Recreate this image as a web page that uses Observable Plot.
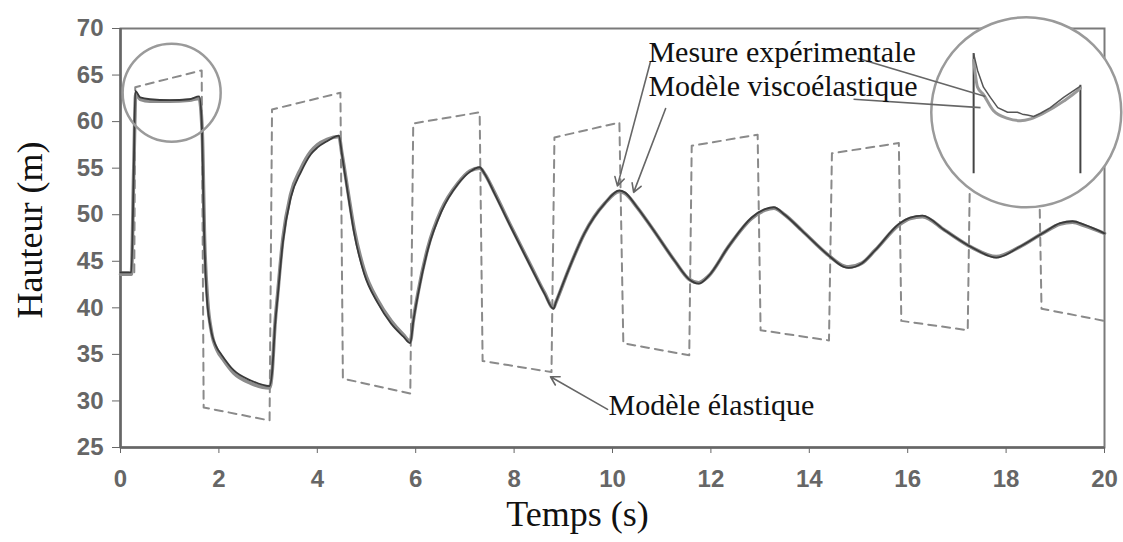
<!DOCTYPE html>
<html>
<head>
<meta charset="utf-8">
<script src="https://cdn.jsdelivr.net/npm/d3@7"></script>
<script src="https://cdn.jsdelivr.net/npm/@observablehq/plot@0.6"></script>
<style>
  html, body { margin: 0; padding: 0; background: #fff; }
  #chart svg { display: block; }
</style>
</head>
<body>
<div id="chart"></div>
<script>
// ---- Data (time in s, height in m) ----
const xTicks = [0, 2, 4, 6, 8, 10, 12, 14, 16, 18, 20];
const yTicks = [25, 30, 35, 40, 45, 50, 55, 60, 65, 70];

// Mesure expérimentale
const measured = [
  [0, 43.8], [0.22, 43.8], [0.27, 55], [0.3, 63.3], [0.4, 62.6], [0.6, 62.4], [1.0, 62.3],
  [1.4, 62.4], [1.6, 62.7], [1.65, 60], [1.7, 48], [1.75, 41.5], [1.83, 37.9], [1.95, 35.8],
  [2.05, 35.0], [2.3, 33.3], [2.65, 32.2], [3.03, 31.6], [3.08, 33], [3.14, 38], [3.2, 41.5],
  [3.3, 47], [3.46, 51.8], [3.67, 54.6], [3.87, 56.5], [4.0, 57.2], [4.2, 57.9], [4.44, 58.5],
  [4.5, 56.5], [4.62, 52.3], [4.75, 48], [4.95, 43.7], [5.23, 40.5], [5.5, 38.3], [5.75, 36.9],
  [5.89, 36.2], [5.95, 38.5], [6.05, 41.5], [6.25, 46.3], [6.52, 50.3], [6.86, 53.3], [7.1, 54.6],
  [7.3, 55.1], [7.4, 54.4], [7.6, 52.3], [7.94, 48.6], [8.35, 44.3], [8.62, 41.5], [8.8, 39.9],
  [8.85, 40.6], [9.1, 44], [9.43, 48], [9.84, 51.2], [10.14, 52.6], [10.25, 52.4], [10.5, 50.8],
  [10.8, 48.6], [11.27, 45.0], [11.55, 43.1], [11.75, 42.6], [11.95, 43.4], [12.36, 46.6],
  [12.83, 49.7], [13.1, 50.6], [13.28, 50.8], [13.5, 50.0], [13.85, 48.3], [14.4, 45.6],
  [14.7, 44.4], [14.8, 44.3], [15.07, 44.8], [15.34, 46.2], [15.82, 49], [16.05, 49.7],
  [16.3, 49.9], [16.76, 48.3], [17.3, 46.5], [17.8, 45.4], [18.26, 46.5], [18.74, 48],
  [19.1, 49.1], [19.35, 49.3], [19.6, 48.9], [20, 48.0]
];

// Modèle viscoélastique
const viscoelastic = [
  [0, 43.6], [0.22, 43.6], [0.27, 55], [0.31, 63.0], [0.4, 62.4], [0.6, 62.2], [1.0, 62.2],
  [1.4, 62.3], [1.6, 62.5], [1.66, 59], [1.71, 47], [1.77, 40.8], [1.85, 37.4], [1.97, 35.4],
  [2.08, 34.5], [2.3, 33.0], [2.65, 31.9], [3.03, 31.4], [3.08, 33], [3.14, 38.2], [3.2, 41.8],
  [3.3, 47.4], [3.46, 52.2], [3.67, 55.0], [3.87, 56.8], [4.0, 57.5], [4.2, 58.1], [4.44, 58.4],
  [4.5, 56.6], [4.62, 52.6], [4.75, 48.4], [4.95, 44.1], [5.23, 40.8], [5.5, 38.6], [5.75, 37.1],
  [5.89, 36.4], [5.95, 38.6], [6.05, 41.7], [6.25, 46.5], [6.52, 50.5], [6.86, 53.4], [7.1, 54.7],
  [7.3, 55.0], [7.4, 54.4], [7.6, 52.4], [7.94, 48.7], [8.35, 44.4], [8.62, 41.6], [8.8, 40.0],
  [8.85, 40.6], [9.1, 44], [9.43, 48], [9.84, 51.2], [10.14, 52.5], [10.25, 52.3], [10.5, 50.8],
  [10.8, 48.6], [11.27, 45.0], [11.55, 43.1], [11.75, 42.7], [11.95, 43.4], [12.36, 46.6],
  [12.83, 49.6], [13.1, 50.5], [13.28, 50.7], [13.5, 50.0], [13.85, 48.3], [14.4, 45.6],
  [14.7, 44.5], [14.8, 44.4], [15.07, 44.8], [15.34, 46.2], [15.82, 48.9], [16.05, 49.6],
  [16.3, 49.8], [16.76, 48.3], [17.3, 46.5], [17.8, 45.5], [18.26, 46.5], [18.74, 48],
  [19.1, 49.0], [19.35, 49.2], [19.6, 48.8], [20, 48.0]
];

// Modèle élastique
const elastic = [
  [0, 43.8], [0.28, 43.8], [0.3, 63.7], [1.65, 65.5], [1.69, 29.3], [3.03, 27.9], [3.08, 61.3],
  [4.47, 63.1], [4.52, 32.4], [5.89, 30.8], [5.95, 59.8], [7.3, 61.0], [7.36, 34.3], [8.76, 33.1],
  [8.82, 58.3], [10.14, 59.9], [10.22, 36.2], [11.56, 34.9], [11.61, 57.4], [12.95, 58.6],
  [13.01, 37.6], [14.4, 36.5], [14.46, 56.6], [15.82, 57.7], [15.87, 38.6], [17.22, 37.6],
  [17.27, 56.4], [18.66, 57.6], [18.72, 39.9], [20, 38.6]
];

// Zoom inset (drawn inside the large circle)
const insetMeasured = [
  [17.34, 67.3], [17.42, 65.5], [17.54, 63.7], [17.68, 62.6], [17.83, 61.5], [18.03, 61.0],
  [18.23, 61.0], [18.33, 60.8], [18.43, 60.7], [18.56, 60.55], [18.70, 60.9], [18.90, 61.5],
  [19.17, 62.6], [19.45, 63.6], [19.51, 63.8]
];
const insetVisco = [
  [17.34, 66.6], [17.42, 63.7], [17.54, 62.9], [17.74, 61.2], [18.03, 60.35], [18.29, 60.1],
  [18.50, 60.3], [18.76, 60.9], [19.17, 62.2], [19.47, 63.4], [19.51, 63.6]
];
const insetVerticals = [
  {t: 17.34, h1: 67.3, h2: 54.4},
  {t: 19.51, h1: 63.9, h2: 54.4}
];

// Highlight circles (centre in data units)
const smallCircle = [{t: 1.04, h: 63.1}];
const bigCircle = [{t: 18.41, h: 61.0}];

// Annotation labels
const labels = [
  {t: 10.73, h: 68.7, text: "Mesure expérimentale"},
  {t: 10.73, h: 65.0, text: "Modèle viscoélastique"},
  {t: 9.92, h: 30.8, text: "Modèle élastique"}
];
// Leader arrows to the curves
const arrows = [
  {t1: 10.77, h1: 66.4, t2: 10.10, h2: 53.1},
  {t1: 11.08, h1: 61.4, t2: 10.43, h2: 52.4},
  {t1: 9.90, h1: 29.1, t2: 8.74, h2: 32.6}
];
// Leader lines into the inset
const insetLeaders = [
  {t1: 14.98, h1: 66.8, t2: 17.58, h2: 62.7},
  {t1: 14.90, h1: 62.4, t2: 17.48, h2: 61.5}
];

const toObj = ([t, h]) => ({t, h});

const serif = "'Liberation Serif', 'Times New Roman', serif";
const sans = "'Liberation Sans', Arial, sans-serif";

const plot = Plot.plot({
  width: 1123,
  height: 542,
  marginLeft: 120,
  marginRight: 19,
  marginTop: 28,
  marginBottom: 95,
  style: {fontFamily: sans, fontSize: "24px", background: "white", overflow: "visible"},
  x: {domain: [0, 20]},
  y: {domain: [25, 70]},
  marks: [
    Plot.frame({stroke: "#7a7a7a", strokeWidth: 2}),
    Plot.axisX({ticks: xTicks, tickSize: 6, tickPadding: 16, color: "#666", label: null, fontSize: 24, fontWeight: "bold"}),
    Plot.axisY({ticks: yTicks, tickSize: 8, tickPadding: 9, color: "#666", label: null, fontSize: 24, fontWeight: "bold"}),
    Plot.ruleX([0], {stroke: "#666", strokeWidth: 2.5}),
    Plot.ruleY([25], {stroke: "#666", strokeWidth: 2.5}),
    Plot.line(elastic.map(toObj), {x: "t", y: "h", stroke: "#8a8a8a", strokeWidth: 2, strokeDasharray: "8,6"}),
    Plot.line(viscoelastic.map(toObj), {x: "t", y: "h", stroke: "#8c8c8c", strokeWidth: 3.6, curve: "monotone-x"}),
    Plot.line(measured.map(toObj), {x: "t", y: "h", stroke: "#3a3a3a", strokeWidth: 1.8, curve: "monotone-x"}),
    Plot.arrow(arrows, {x1: "t1", y1: "h1", x2: "t2", y2: "h2", stroke: "#666", strokeWidth: 1.6, headLength: 9, bend: 0}),
    Plot.dot(smallCircle, {x: "t", y: "h", r: 49, fill: "none", stroke: "#9a9a9a", strokeWidth: 2.5}),
    Plot.dot(bigCircle, {x: "t", y: "h", r: 95, fill: "white", stroke: "#9a9a9a", strokeWidth: 2.5}),
    Plot.ruleX(insetVerticals, {x: "t", y1: "h1", y2: "h2", stroke: "#444", strokeWidth: 2}),
    Plot.line(insetVisco.map(toObj), {x: "t", y: "h", stroke: "#999", strokeWidth: 3, curve: "monotone-x"}),
    Plot.line(insetMeasured.map(toObj), {x: "t", y: "h", stroke: "#555", strokeWidth: 1.5}),
    Plot.link(insetLeaders, {x1: "t1", y1: "h1", x2: "t2", y2: "h2", stroke: "#666", strokeWidth: 1.6}),
    Plot.text(labels, {x: "t", y: "h", text: "text", textAnchor: "start", lineAnchor: "top",
      fontSize: 30, fontFamily: serif, fill: "#111"}),
    Plot.text(["Temps (s)"], {frameAnchor: "bottom", dx: -35, dy: 53, lineAnchor: "top", textAnchor: "middle",
      fontSize: 36, fontFamily: serif, fill: "#111"}),
    Plot.text(["Hauteur (m)"], {frameAnchor: "left", dx: -90, dy: -8, rotate: -90, textAnchor: "middle", lineAnchor: "middle",
      fontSize: 36, fontFamily: serif, fill: "#111"})
  ]
});
document.getElementById("chart").appendChild(plot);
</script>
</body>
</html>
